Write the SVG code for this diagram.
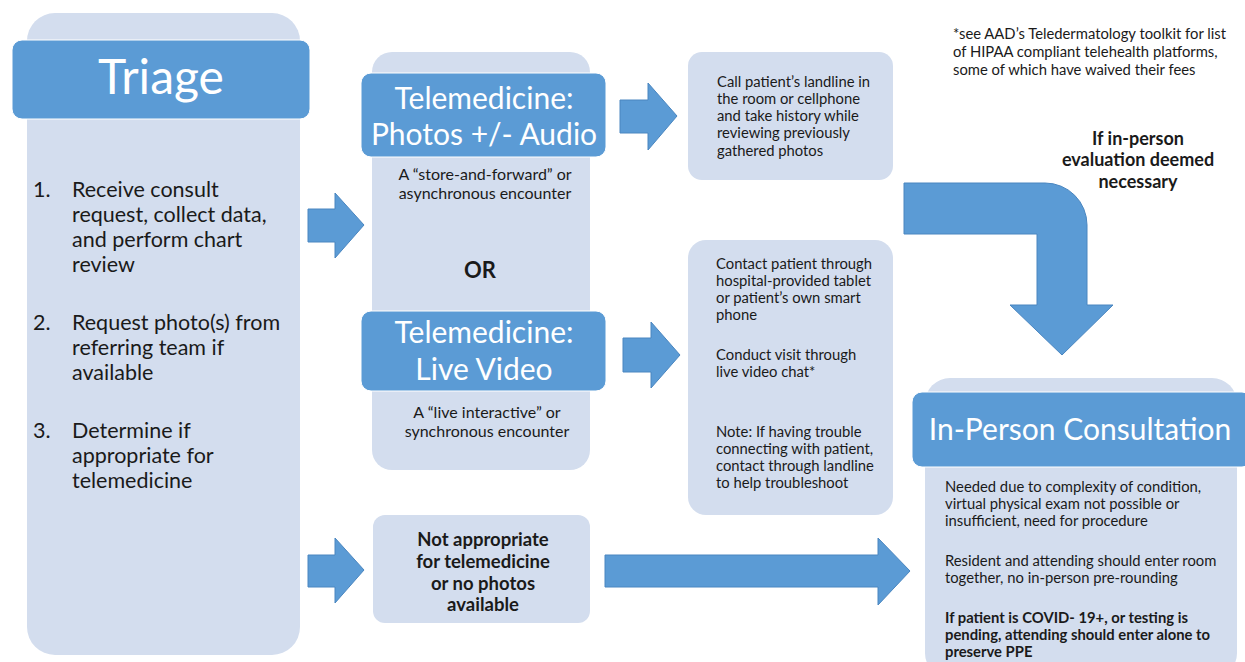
<svg xmlns="http://www.w3.org/2000/svg" width="1245" height="662" viewBox="0 0 1245 662">
<style>
.panel{fill:#D3DDEE}
.head{fill:#5B9BD5;stroke:#ffffff;stroke-width:1}
.arrow{fill:#5B9BD5;stroke:#4A86C0;stroke-width:1}
text{font-family:Lato,"Open Sans","Liberation Sans",sans-serif;fill:#1a1a1a}
.ht{fill:#ffffff;text-anchor:middle}
.big{font-size:21.5px}
.sm{font-size:14.8px}
.sub{font-size:16px;text-anchor:middle}
.b{font-weight:bold}
.c{text-anchor:middle}
</style>
<rect width="1245" height="662" fill="#ffffff"/>
<g id="connectors">
<path class="arrow" d="M308 209 L335 209 L335 193 L364 225 L335 258 L335 242 L308 242 Z"/>
<path class="arrow" d="M308 555 L335 555 L335 538 L364 570 L335 603 L335 587 L308 587 Z"/>
<path class="arrow" d="M620 100 L648 100 L648 83 L677 116 L648 150 L648 133 L620 133 Z"/>
<path class="arrow" d="M623 338 L651 338 L651 322 L680 355 L651 388 L651 372 L623 372 Z"/>
<path class="arrow" d="M605 555 L878 555 L878 538 L910 571 L878 605 L878 587 L605 587 Z"/>
<path class="arrow" d="M904 183 L1045 183 A42 42 0 0 1 1087 225 L1087 305 L1113 305 L1062 355 L1010 305 L1037 305 L1037 234 L904 234 Z"/>
</g>
<g id="triage">
<rect class="panel" x="27" y="13" width="273" height="642" rx="28"/>
<rect class="head" x="12" y="40" width="298" height="79" rx="10"/>
<text class="ht" x="161" y="94" font-size="48">Triage</text>
<g class="big">
<text x="33" y="197">1.</text>
<text x="72" y="197">Receive consult</text>
<text x="72" y="222">request, collect data,</text>
<text x="72" y="247">and perform chart</text>
<text x="72" y="272">review</text>
<text x="33" y="330">2.</text>
<text x="72" y="330">Request photo(s) from</text>
<text x="72" y="355">referring team if</text>
<text x="72" y="380">available</text>
<text x="33" y="438">3.</text>
<text x="72" y="438">Determine if</text>
<text x="72" y="463">appropriate for</text>
<text x="72" y="488">telemedicine</text>
</g>
</g>
<g id="telemedicine">
<rect class="panel" x="372" y="52" width="218" height="418" rx="20"/>
<rect class="head" x="361" y="73" width="245" height="84" rx="10"/>
<text class="ht" x="484" y="109" font-size="30">Telemedicine:</text>
<text class="ht" x="484" y="145" font-size="30">Photos +/- Audio</text>
<text class="sub" x="485" y="180">A “store-and-forward” or</text>
<text class="sub" x="485" y="199">asynchronous encounter</text>
<text class="b c" x="480" y="278" font-size="22">OR</text>
<rect class="head" x="361" y="311" width="245" height="80" rx="10"/>
<text class="ht" x="484" y="343" font-size="30">Telemedicine:</text>
<text class="ht" x="484" y="380" font-size="30">Live Video</text>
<text class="sub" x="487" y="418">A “live interactive” or</text>
<text class="sub" x="487" y="437">synchronous encounter</text>
</g>
<g id="not-appropriate">
<rect class="panel" x="373" y="515" width="217" height="108" rx="12"/>
<g class="b c" font-size="18.5">
<text x="483" y="546">Not appropriate</text>
<text x="483" y="568">for telemedicine</text>
<text x="483" y="590">or no photos</text>
<text x="483" y="611">available</text>
</g>
</g>
<g id="photos-steps">
<rect class="panel" x="688" y="52" width="205" height="128" rx="14"/>
<g class="sm">
<text x="717" y="87">Call patient’s landline in</text>
<text x="717" y="104">the room or cellphone</text>
<text x="717" y="121">and take history while</text>
<text x="717" y="138">reviewing previously</text>
<text x="717" y="156">gathered photos</text>
</g>
</g>
<g id="video-steps">
<rect class="panel" x="688" y="240" width="205" height="275" rx="18"/>
<g class="sm">
<text x="716" y="269">Contact patient through</text>
<text x="716" y="286">hospital-provided tablet</text>
<text x="716" y="303">or patient’s own smart</text>
<text x="716" y="320">phone</text>
<text x="716" y="360">Conduct visit through</text>
<text x="716" y="377">live video chat*</text>
<text x="716" y="437">Note: If having trouble</text>
<text x="716" y="454">connecting with patient,</text>
<text x="716" y="471">contact through landline</text>
<text x="716" y="488">to help troubleshoot</text>
</g>
</g>
<g id="footnote">
<g class="sm">
<text x="953" y="39">*see AAD’s Teledermatology toolkit for list</text>
<text x="953" y="57">of HIPAA compliant telehealth platforms,</text>
<text x="953" y="75">some of which have waived their fees</text>
</g>
</g>
<g id="condition-label">
<g class="b c" font-size="18">
<text x="1138" y="145">If in-person</text>
<text x="1138" y="166">evaluation deemed</text>
<text x="1138" y="188">necessary</text>
</g>
</g>
<g id="in-person">
<rect class="panel" x="925" y="378" width="312" height="300" rx="25"/>
<rect class="head" x="912" y="392" width="340" height="75" rx="10"/>
<text class="ht" x="1080" y="440" font-size="30">In-Person Consultation</text>
<g class="sm">
<text x="945" y="492">Needed due to complexity of condition,</text>
<text x="945" y="509">virtual physical exam not possible or</text>
<text x="945" y="526">insufficient, need for procedure</text>
<text x="945" y="566">Resident and attending should enter room</text>
<text x="945" y="583">together, no in-person pre-rounding</text>
<text class="b" x="945" y="623">If patient is COVID- 19+, or testing is</text>
<text class="b" x="945" y="640">pending, attending should enter alone to</text>
<text class="b" x="945" y="657">preserve PPE</text>
</g>
</g>
</svg>
